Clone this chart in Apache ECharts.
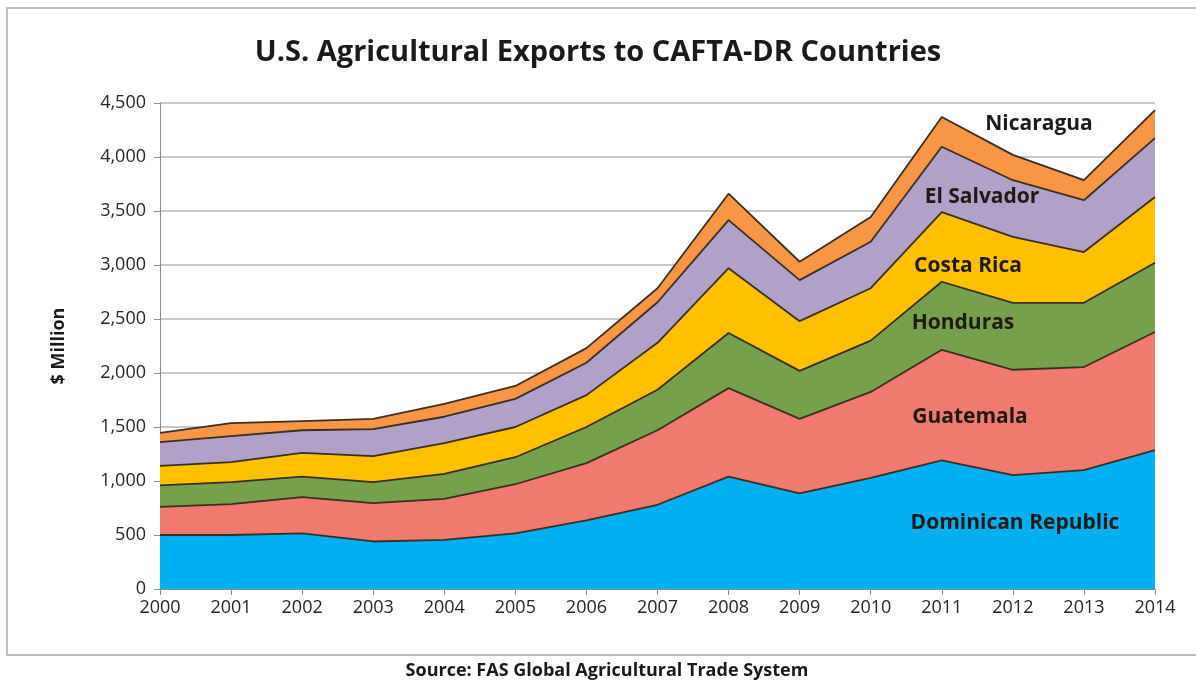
<!DOCTYPE html>
<html>
<head>
<meta charset="utf-8">
<script src="https://cdn.jsdelivr.net/npm/echarts@6/dist/echarts.min.js"></script>
<style>
  html, body { margin: 0; padding: 0; background: #fff; }
  #chart { width: 1196px; height: 684px; }
</style>
</head>
<body>
<div id="chart"></div>
<script>
// values in $ million
const years = ['2000', '2001', '2002', '2003', '2004', '2005', '2006', '2007',
  '2008', '2009', '2010', '2011', '2012', '2013', '2014']
const dominicanRepublic = [500, 500, 515, 440, 455, 515, 635, 780, 1040, 885, 1030, 1190, 1055, 1100, 1285]
const guatemala = [260, 285, 335, 355, 380, 455, 530, 690, 820, 690, 795, 1025, 975, 955, 1095]
const honduras = [200, 205, 190, 195, 230, 250, 335, 375, 510, 445, 475, 630, 620, 595, 640]
const costaRica = [180, 185, 220, 240, 285, 280, 295, 435, 600, 460, 485, 645, 610, 470, 610]
const elSalvador = [220, 240, 210, 250, 245, 260, 300, 375, 445, 380, 430, 605, 525, 480, 545]
const nicaragua = [85, 120, 85, 95, 120, 120, 135, 130, 245, 170, 230, 275, 235, 185, 260]

const seriesDefs = [
  { name: 'Dominican Republic', data: dominicanRepublic, color: '#00B0F0' },
  { name: 'Guatemala', data: guatemala, color: '#F07A70' },
  { name: 'Honduras', data: honduras, color: '#77A04C' },
  { name: 'Costa Rica', data: costaRica, color: '#FFC000' },
  { name: 'El Salvador', data: elSalvador, color: '#B1A0C7' },
  { name: 'Nicaragua', data: nicaragua, color: '#F79646' },
]

// area labels, placed where the reference has them
const areaLabels = [
  { text: 'Nicaragua', x: 1039, y: 124 },
  { text: 'El Salvador', x: 982, y: 197 },
  { text: 'Costa Rica', x: 968, y: 266 },
  { text: 'Honduras', x: 963, y: 323 },
  { text: 'Guatemala', x: 970, y: 417 },
  { text: 'Dominican Republic', x: 1015, y: 523 },
]

const font = '"Open Sans", "Noto Sans", sans-serif'
const chart = echarts.init(document.getElementById('chart'))

chart.setOption({
  animation: false,
  backgroundColor: '#fff',
  title: {
    text: 'U.S. Agricultural Exports to CAFTA-DR Countries',
    left: 'center',
    top: 33,
    textStyle: { fontFamily: font, fontSize: 29, fontWeight: 'bold', color: '#1a1a1a' },
  },
  grid: { left: 160, right: 41, top: 103, bottom: 95 },
  xAxis: {
    type: 'category',
    data: years,
    boundaryGap: false,
    axisLine: { lineStyle: { color: '#8c8c8c', width: 1 } },
    axisTick: { show: true, length: 6, lineStyle: { color: '#8c8c8c' } },
    axisLabel: { fontFamily: font, fontSize: 18, color: '#262626', margin: 10 },
  },
  yAxis: {
    type: 'value',
    min: 0,
    max: 4500,
    interval: 500,
    name: '$ Million',
    nameLocation: 'middle',
    nameGap: 92,
    nameRotate: 90,
    nameTextStyle: { fontFamily: font, fontSize: 18, fontWeight: 'bold', color: '#1a1a1a' },
    axisLine: { show: true, lineStyle: { color: '#8c8c8c', width: 1 } },
    axisTick: { show: true, length: 6, lineStyle: { color: '#8c8c8c' } },
    splitLine: { lineStyle: { color: '#b5b5b5', width: 1.5 } },
    axisLabel: {
      fontFamily: font,
      fontSize: 18,
      color: '#262626',
      margin: 14,
      formatter: (v) => v.toLocaleString('en-US'),
    },
  },
  series: seriesDefs.map((s) => ({
    name: s.name,
    type: 'line',
    stack: 'total',
    data: s.data,
    symbol: 'none',
    lineStyle: { color: '#3b2e22', width: 1.8 },
    areaStyle: { color: s.color, opacity: 1 },
    itemStyle: { color: s.color },
  })),
  graphic: [
    {
      type: 'rect',
      shape: { x: 7, y: 8, width: 1200, height: 647 },
      style: { fill: 'none', stroke: '#a6a6a6', lineWidth: 1.5 },
      silent: true,
    },
    {
      type: 'text',
      x: 607,
      y: 671,
      style: {
        text: 'Source: FAS Global Agricultural Trade System',
        fontFamily: font,
        fontSize: 18,
        fontWeight: 'bold',
        fill: '#1a1a1a',
        align: 'center',
        verticalAlign: 'middle',
      },
    },
    ...areaLabels.map((l) => ({
      type: 'text',
      x: l.x,
      y: l.y,
      z: 100,
      style: {
        text: l.text,
        fontFamily: font,
        fontSize: 21,
        fontWeight: 'bold',
        fill: '#1f1a14',
        align: 'center',
        verticalAlign: 'middle',
      },
    })),
  ],
})
</script>
</body>
</html>
